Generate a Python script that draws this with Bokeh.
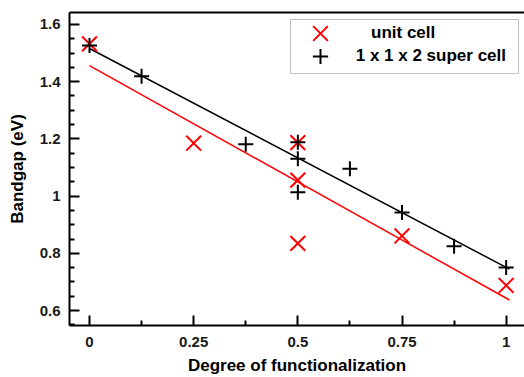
from bokeh.plotting import figure
from bokeh.models import (Range1d, FixedTicker, LinearAxis, Legend, LegendItem,
                          ColumnDataSource, BoxAnnotation)
from bokeh.embed import file_html
from bokeh.resources import INLINE

# ---- data ----
unit_x = [0.0, 0.25, 0.5, 0.5, 0.5, 0.75, 1.0]
unit_gap = [1.532, 1.185, 1.187, 1.056, 0.835, 0.861, 0.688]

super_x = [0.0, 0.125, 0.375, 0.5, 0.5, 0.5, 0.625, 0.75, 0.875, 1.0]
super_gap = [1.526, 1.419, 1.181, 1.188, 1.131, 1.014, 1.096, 0.943, 0.825, 0.751]

fit_x = [0.0, 1.008]
unit_fit = [1.456, 0.637]
super_fit = [1.516, 0.745]

x_ticks = [0, 0.25, 0.5, 0.75, 1]
x_tick_labels = ["0", "0.25", "0.5", "0.75", "1"]
y_ticks = [0.6, 0.8, 1.0, 1.2, 1.4, 1.6]
y_tick_labels = ["0.6", "0.8", "1", "1.2", "1.4", "1.6"]

series_labels = ["unit cell", " 1 x 1 x 2 super cell"]

FONT = "Liberation Sans"

p = figure(width=524, height=377, output_backend="svg", toolbar_location=None,
           x_range=Range1d(-0.048, 1.044), y_range=Range1d(0.548, 1.6417),
           min_border_left=69, min_border_right=0, min_border_top=12,
           min_border_bottom=50, x_axis_label="Degree of functionalization",
           y_axis_label="Bandgap (eV)")
p.grid.visible = False
p.outline_line_color = None
p.background_fill_color = "white"
p.border_fill_color = "white"

minor_x = [0.125, 0.375, 0.625, 0.875]
minor_y = [round(0.55 + 0.05 * i, 3) for i in range(22) if round(0.55 + 0.05 * i, 3) not in y_ticks]

xa = p.xaxis[0]
xa.ticker = FixedTicker(ticks=x_ticks, minor_ticks=minor_x)
xa.major_label_overrides = {t: l for t, l in zip(x_ticks, x_tick_labels)}
ya = p.yaxis[0]
ya.ticker = FixedTicker(ticks=y_ticks, minor_ticks=minor_y)
ya.major_label_overrides = {t: l for t, l in zip(y_ticks, y_tick_labels)}

for ax in (xa, ya):
    ax.axis_line_width = 2
    ax.axis_line_color = "black"
    ax.major_tick_in = 10
    ax.major_tick_out = 0
    ax.minor_tick_in = 5
    ax.minor_tick_out = 0
    ax.major_tick_line_width = 2
    ax.minor_tick_line_width = 2
    ax.major_tick_line_color = "black"
    ax.minor_tick_line_color = "black"
    ax.major_label_text_font = FONT
    ax.major_label_text_font_style = "bold"
    ax.major_label_text_font_size = "15px"
    ax.major_label_text_color = "#1a1a1a"
    ax.axis_label_text_font = FONT
    ax.axis_label_text_font_style = "bold"
    ax.axis_label_text_font_size = "17px"
    ax.axis_label_text_color = "black"

xa.major_label_standoff = 11
xa.axis_label_standoff = 6
ya.major_label_standoff = 9
ya.axis_label_standoff = 10

# top frame line: an axis with no ticks and no labels
top = LinearAxis(ticker=FixedTicker(ticks=[], minor_ticks=[]),
                 major_tick_in=0, major_tick_out=0, minor_tick_in=0, minor_tick_out=0,
                 axis_line_width=2, axis_line_color="black", major_label_standoff=0)
p.add_layout(top, "above")

usrc = ColumnDataSource(dict(x=unit_x, y=unit_gap))
ssrc = ColumnDataSource(dict(x=super_x, y=super_gap))

p.line(fit_x, super_fit, line_color="black", line_width=1.5)
p.line(fit_x, unit_fit, line_color="#ff0000", line_width=1.5)

r_unit = p.scatter("x", "y", source=usrc, marker="x", size=21,
                   line_color="#ff0000", line_width=2)
r_super = p.scatter("x", "y", source=ssrc, marker="cross", size=15,
                    line_color="black", line_width=2)

# legend frame
box = BoxAnnotation(left=290, right=518, top=19, bottom=73,
                    left_units="canvas", right_units="canvas",
                    top_units="canvas", bottom_units="canvas",
                    fill_color="white", fill_alpha=1.0,
                    line_color="#333333", line_width=1, level="annotation")
p.add_layout(box)

common = dict(orientation="vertical", glyph_width=60, label_height=20,
              spacing=0, padding=0, margin=0,
              label_text_font=FONT, label_text_font_style="bold",
              label_text_font_size="17px", label_text_color="black",
              border_line_color=None, background_fill_alpha=0.0)

leg1 = Legend(items=[LegendItem(label=series_labels[0], renderers=[r_unit])],
              location=(221, 266), glyph_height=52, label_standoff=21, **common)
leg2 = Legend(items=[LegendItem(label=series_labels[1], renderers=[r_super])],
              location=(221, 250), glyph_height=38, label_standoff=1, **common)
p.add_layout(leg1, "center")
p.add_layout(leg2, "center")

open("out.html", "w").write(file_html(p, INLINE))
